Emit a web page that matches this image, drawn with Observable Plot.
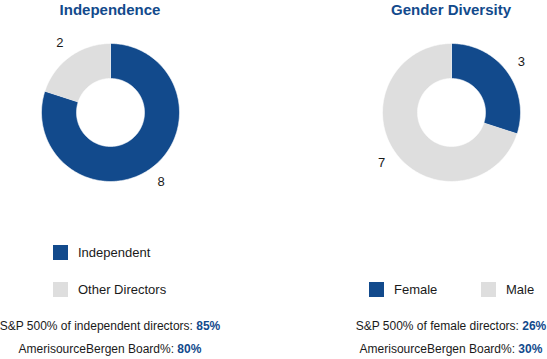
<!DOCTYPE html>
<html>
<head>
<meta charset="utf-8">
<script src="https://cdn.jsdelivr.net/npm/d3@7"></script>
<script src="https://cdn.jsdelivr.net/npm/@observablehq/plot@0.6"></script>
<style>
  html, body { margin: 0; padding: 0; background: #fff; }
  body { width: 547px; height: 359px; position: relative; overflow: hidden;
         font-family: "Liberation Sans", Arial, Helvetica, sans-serif; color: #1a1a1a; }
  .abs { position: absolute; }
  .title { font-weight: bold; font-size: 15px; color: #124a8c; white-space: nowrap; transform: translateX(-50%); }
  .sw { width: 15px; height: 15px; }
  .lg { font-size: 13px; white-space: nowrap; line-height: 15px; }
  .note { font-size: 12px; white-space: nowrap; transform: translateX(-50%); line-height: 14px; }
  .note b { color: #124a8c; }
</style>
</head>
<body>
<script>
// ---- data ----
const chartTitles = ["Independence", "Gender Diversity"];
const independenceCategories = ["Independent", "Other Directors"];
const independenceValues = [8, 2];
const genderCategories = ["Female", "Male"];
const genderValues = [3, 7];
const noteLabels = ["S&P 500% of independent directors: ", "S&P 500% of female directors: "];
const sp500Values = [85, 26];
const boardLabel = "AmerisourceBergen Board%: ";
const boardValues = [80, 30];

// ---- styling / layout ----
const BLUE = "#124a8c", GRAY = "#dedede";
const sliceColors = [BLUE, GRAY];
const R = 69, INNER = 34 / 69, BOX = 180, LABEL_R = 1.25;
const centers = [[110, 112], [451, 112]];

function slicesOf(cats, vals) {
  const total = d3.sum(vals);
  let acc = 0;
  return cats.map((c, i) => {
    const a0 = acc / total * 2 * Math.PI;
    acc += vals[i];
    const a1 = acc / total * 2 * Math.PI;
    return {category: c, value: vals[i], a0, a1};
  });
}

function ringPoints(slices) {
  const pts = [];
  for (const s of slices) {
    const n = Math.max(2, Math.ceil((s.a1 - s.a0) / (Math.PI / 180)));
    for (let k = 0; k <= n; k++) {
      const a = s.a0 + (s.a1 - s.a0) * k / n;
      pts.push({category: s.category, x: Math.sin(a), y: Math.cos(a)});
    }
    for (let k = n; k >= 0; k--) {
      const a = s.a0 + (s.a1 - s.a0) * k / n;
      pts.push({category: s.category, x: INNER * Math.sin(a), y: INNER * Math.cos(a)});
    }
  }
  return pts;
}

function donut(cats, vals) {
  const slices = slicesOf(cats, vals);
  const half = (BOX / 2) / R;
  const labels = slices.map(s => {
    const m = (s.a0 + s.a1) / 2;
    return {x: LABEL_R * Math.sin(m), y: LABEL_R * Math.cos(m), text: String(s.value)};
  });
  return Plot.plot({
    width: BOX, height: BOX,
    margin: 0,
    x: {domain: [-half, half], axis: null},
    y: {domain: [-half, half], axis: null},
    color: {domain: cats, range: sliceColors},
    style: {fontFamily: "'Liberation Sans', Arial, sans-serif", background: "transparent"},
    marks: [
      Plot.line(ringPoints(slices), {x: "x", y: "y", z: "category", fill: "category", stroke: "white", strokeWidth: 0.6, curve: "linear"}),
      Plot.text(labels, {x: "x", y: "y", text: "text", fontSize: 13, fill: "#1a1a1a"})
    ]
  });
}

const allCats = [independenceCategories, genderCategories];
const allVals = [independenceValues, genderValues];

chartTitles.forEach((t, i) => {
  const [cx, cy] = centers[i];
  const title = document.createElement("div");
  title.className = "abs title";
  title.style.left = cx + "px";
  title.style.top = "1px";
  title.textContent = t;
  document.body.appendChild(title);

  const svg = donut(allCats[i], allVals[i]);
  const wrap = document.createElement("div");
  wrap.className = "abs";
  wrap.style.left = (cx - BOX / 2) + "px";
  wrap.style.top = (cy - BOX / 2) + "px";
  wrap.appendChild(svg);
  document.body.appendChild(wrap);

  const n1 = document.createElement("div");
  n1.className = "abs note";
  n1.style.left = cx + "px";
  n1.style.top = "319px";
  n1.innerHTML = noteLabels[i] + "<b>" + sp500Values[i] + "%</b>";
  document.body.appendChild(n1);

  const n2 = document.createElement("div");
  n2.className = "abs note";
  n2.style.left = cx + "px";
  n2.style.top = "342px";
  n2.innerHTML = boardLabel + "<b>" + boardValues[i] + "%</b>";
  document.body.appendChild(n2);
});

// legends
const legendPos = [
  [[53, 245], [53, 282]],   // Independence: stacked
  [[369, 282], [481, 282]]  // Gender: side by side
];
allCats.forEach((cats, i) => {
  cats.forEach((c, j) => {
    const [lx, ly] = legendPos[i][j];
    const sw = document.createElement("div");
    sw.className = "abs sw";
    sw.style.left = lx + "px";
    sw.style.top = ly + "px";
    sw.style.background = sliceColors[j];
    document.body.appendChild(sw);
    const tx = document.createElement("div");
    tx.className = "abs lg";
    tx.style.left = (lx + 25) + "px";
    tx.style.top = ly + "px";
    tx.textContent = c;
    document.body.appendChild(tx);
  });
});
</script>
</body>
</html>
